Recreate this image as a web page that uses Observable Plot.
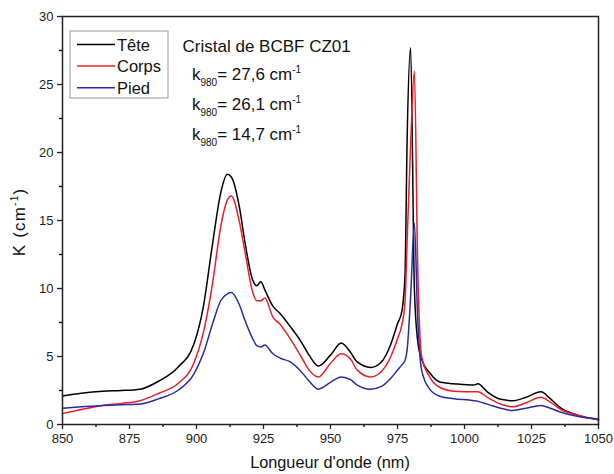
<!DOCTYPE html>
<html><head><meta charset="utf-8">
<script src="https://cdn.jsdelivr.net/npm/d3@7"></script>
<script src="https://cdn.jsdelivr.net/npm/@observablehq/plot@0.6"></script>
<style>body{margin:0;background:#fff;font-family:"Liberation Sans",Arial,sans-serif}</style>
</head><body><div id="chart"></div>
<script>
const wavelength = [850, 857, 865, 872, 879, 886, 893, 899, 902.5, 906, 909, 911.5, 913, 916, 918, 921, 922.5, 924, 925.5, 928.5, 931, 935, 939, 942, 945.5, 950, 954, 957.5, 960, 965, 969, 972.5, 975, 976.7, 977.8, 978.6, 979.9, 981.3, 982.5, 984, 987, 991, 996, 1003.5, 1005, 1008.5, 1013.5, 1018, 1023, 1028.5, 1032, 1036, 1042, 1050];
const tete = [2.1, 2.3, 2.45, 2.5, 2.6, 3.2, 4.2, 5.9, 8.6, 13.3, 17.0, 18.4, 18.2, 16.0, 13.5, 10.6, 10.2, 10.5, 9.9, 8.7, 8.2, 7.2, 6.1, 5.1, 4.3, 5.1, 6.0, 5.3, 4.6, 4.2, 4.6, 5.9, 7.4, 8.4, 11, 21, 27.7, 10, 6.2, 4.8, 3.8, 3.1, 3.0, 2.9, 3.0, 2.4, 1.85, 1.75, 2.0, 2.4, 1.9, 1.2, 0.7, 0.35];
const corps = [0.8, 1.1, 1.4, 1.55, 1.75, 2.3, 3.0, 4.5, 6.7, 10.4, 14.5, 16.5, 16.8, 14.9, 12.8, 9.7, 9.1, 9.1, 9.3, 7.9, 7.4, 6.3, 5.0, 4.0, 3.5, 4.5, 5.2, 4.8, 4.0, 3.5, 3.9, 5.0, 6.3, 7.4, 9, 13.5, 20.6, 26.0, 12, 5.0, 3.5, 2.7, 2.45, 2.4, 2.4, 2.0, 1.5, 1.3, 1.6, 2.0, 1.65, 1.1, 0.7, 0.35];
const pied = [1.2, 1.3, 1.4, 1.45, 1.5, 1.9, 2.5, 3.7, 5.2, 7.4, 9.1, 9.6, 9.7, 8.8, 7.7, 6.3, 5.8, 5.7, 5.85, 5.2, 4.9, 4.6, 3.9, 3.2, 2.6, 3.1, 3.5, 3.3, 2.9, 2.6, 2.8, 3.4, 4.0, 4.4, 4.7, 5.5, 9.4, 14.8, 8, 4.0, 2.6, 2.06, 1.9, 1.75, 1.7, 1.5, 1.2, 1.03, 1.2, 1.4, 1.2, 0.9, 0.6, 0.4];
const seriesNames = ["Tête", "Corps", "Pied"];
const seriesColors = ["#000000", "#e8202a", "#2a2aa8"];
const seriesValues = [tete, corps, pied];
const k980 = ["27,6", "26,1", "14,7"];
const xTicks = [850, 875, 900, 925, 950, 975, 1000, 1025, 1050];
const xMinor = [862.5, 887.5, 912.5, 937.5, 962.5, 987.5, 1012.5, 1037.5];
const yTicks = [0, 5, 10, 15, 20, 25, 30];
const yMinor = [2.5, 7.5, 12.5, 17.5, 22.5, 27.5];

const rows = [];
seriesNames.forEach((s, i) => wavelength.forEach((w, j) => rows.push({s, w, k: seriesValues[i][j]})));

const plot = Plot.plot({
  width: 614, height: 474,
  marginLeft: 62, marginRight: 16, marginTop: 16, marginBottom: 50,
  style: {fontFamily: '"Liberation Sans", Arial, sans-serif', fontSize: "13px", background: "#fff"},
  x: {domain: [850, 1050]},
  y: {domain: [0, 30]},
  color: {domain: seriesNames, range: seriesColors},
  marks: [
    Plot.line(rows, {x: "w", y: "k", z: "s", stroke: "s", strokeWidth: 1.5, curve: "monotone-x"}),
    Plot.axisX({ticks: xTicks, tickSize: 5, tickPadding: 4, label: null, fontSize: 13, tickFormat: d => String(d), strokeWidth: 1.3, color: "#222"}),
    Plot.axisX({ticks: xMinor, tickSize: 3, text: null, label: null, strokeWidth: 1.3}),
    Plot.axisY({ticks: yTicks, tickSize: 5, tickPadding: 4, label: null, fontSize: 13, strokeWidth: 1.3, color: "#222"}),
    Plot.axisY({ticks: yMinor, tickSize: 3, text: null, label: null, strokeWidth: 1.3}),
    Plot.frame({stroke: "#222", strokeWidth: 1.5})
  ]
});
document.getElementById("chart").appendChild(plot);

const xs = plot.scale("x"), ys = plot.scale("y");
const svg = d3.select(plot);
const font = '"Liberation Sans", Arial, sans-serif';
const g = svg.append("g").attr("font-family", font).attr("fill", "#111").attr("text-anchor", "start");

// axis titles
g.append("text").attr("x", (xs.apply(850) + xs.apply(1050)) / 2).attr("y", 468)
  .attr("text-anchor", "middle").attr("font-size", 16.3).text("Longueur d'onde (nm)");
const yl = g.append("text").attr("transform", `translate(25,${(ys.apply(0) + ys.apply(30)) / 2 + 2}) rotate(-90)`)
  .attr("text-anchor", "middle").attr("font-size", 17).attr("letter-spacing", 1.2);
yl.append("tspan").text("K (cm");
yl.append("tspan").attr("font-size", 10).attr("dy", -7).text("-1");
yl.append("tspan").attr("dy", 7).text(")");

// legend
const lx = xs.apply(850) + 8, ly = ys.apply(30) + 15;
g.append("rect").attr("x", lx).attr("y", ly).attr("width", 98).attr("height", 67)
  .attr("fill", "#fff").attr("stroke", "#999").attr("stroke-width", 1);
seriesNames.forEach((s, i) => {
  const cy = ly + 13.5 + i * 21.6;
  g.append("line").attr("x1", lx + 7).attr("x2", lx + 45).attr("y1", cy).attr("y2", cy)
    .attr("stroke", seriesColors[i]).attr("stroke-width", 1.5);
  g.append("text").attr("x", lx + 47).attr("y", cy + 6).attr("font-size", 16.5).text(s);
});

// annotation
g.append("text").attr("x", xs.apply(895)).attr("y", ys.apply(27.8) + 6).attr("font-size", 17).text("Cristal de BCBF CZ01");
const kY = [25.7, 23.5, 21.3];
k980.forEach((v, i) => {
  const t = g.append("text").attr("x", xs.apply(898.5)).attr("y", ys.apply(kY[i]) + 6).attr("font-size", 17);
  t.append("tspan").text("k");
  t.append("tspan").attr("font-size", 10).attr("dy", 6).text("980");
  t.append("tspan").attr("dy", -6).text("= " + v + " cm");
  t.append("tspan").attr("font-size", 10).attr("dy", -7).text("-1");
});
</script></body></html>
